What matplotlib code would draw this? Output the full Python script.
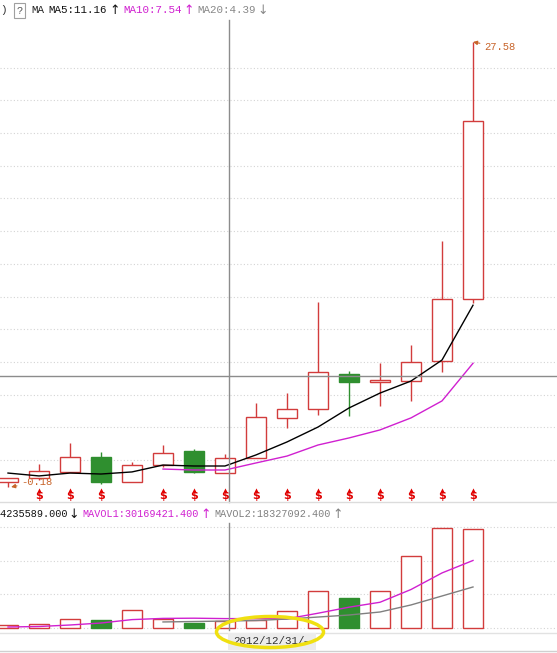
import numpy as np
import matplotlib.pyplot as plt
from matplotlib.patches import Rectangle, Ellipse
from matplotlib.lines import Line2D

W, H = 557, 653
nan = np.nan

# daily k-line (forward adjusted prices)
opens  = [0.13, 0.38, 0.76, 1.69, 0.13, 1.19, 2.07, 0.69, 1.63, 4.13, 4.69, 6.87, 6.37, 6.43, 7.68, 11.55]
highs  = [0.38, 1.26, 2.57, 2.00, 1.38, 2.44, 2.19, 1.88, 5.06, 5.68, 11.36, 7.06, 7.56, 8.68, 15.17, 27.58]
lows   = [-0.18, 0.26, 0.76, 0.01, 0.13, 1.07, 0.69, 0.69, 1.63, 3.50, 4.31, 4.25, 4.87, 5.19, 6.99, 11.30]
closes = [0.38, 0.82, 1.69, 0.13, 1.19, 1.94, 0.76, 1.63, 4.19, 4.69, 6.99, 6.37, 6.50, 7.62, 11.55, 22.65]
ma5  = [0.69, 0.51, 0.69, 0.63, 0.76, 1.19, 1.13, 1.13, 1.82, 2.63, 3.56, 4.75, 5.68, 6.43, 7.74, 11.16]
ma10 = [nan, nan, nan, nan, nan, 0.94, 0.88, 0.88, 1.32, 1.75, 2.44, 2.88, 3.38, 4.13, 5.19, 7.54]
signals = [1, 2, 3, 5, 6, 7, 8, 9, 10, 11, 12, 13, 14, 15]

# volume in millions of shares
volume = [1.34, 1.79, 4.02, 3.57, 8.04, 4.02, 2.23, 3.13, 3.57, 7.60, 16.5, 13.2, 16.5, 32.2, 44.7, 44.24]
mavol1 = [0.45, 0.67, 1.34, 2.23, 3.75, 4.29, 4.38, 4.20, 4.20, 4.10, 6.6, 9.3, 11.5, 17.2, 24.6, 30.17]
mavol2 = [nan, nan, nan, nan, nan, 2.7, 2.9, 3.1, 3.35, 4.0, 4.9, 5.8, 7.15, 10.3, 14.3, 18.33]

RED = '#d23c3c'
GREEN = '#2f8f2f'
MAG = '#d020d0'
MONO = ['Liberation Mono', 'DejaVu Sans Mono']


def fx(x):
    return x / W


def fy(y):
    return 1 - y / H


fig = plt.figure(figsize=(W / 100, H / 100), dpi=100)
fig.patch.set_facecolor('white')

# ---- price panel (pixel rows 20..500)
ax = fig.add_axes([0, fy(500), 1, 480 / H])
s = 27.76 / 445.0
ax.set_ylim(27.58 - 458 * s, 27.58 + 22 * s)
ax.set_xlim(-8 / 31, (W - 8) / 31)
for k in range(13):
    ax.axhline(1.50 + 2.04 * k, color='#d4d4d4', lw=0.8, ls=(0, (1, 2)), zorder=0)

n = len(opens)
x = np.arange(n)
bw = 0.66
for i in range(n):
    up = closes[i] >= opens[i]
    c = RED if up else GREEN
    ax.vlines(i, lows[i], highs[i], color=c, lw=1, zorder=2)
    lo = min(opens[i], closes[i])
    ax.add_patch(Rectangle((i - bw / 2, lo), bw, abs(closes[i] - opens[i]),
                           facecolor='white' if up else GREEN, edgecolor=c, lw=1, zorder=3))

ax.plot(x, ma5, color='black', lw=1, zorder=4)
ax.plot(x, ma10, color=MAG, lw=1, zorder=4)

tr = ax.get_xaxis_transform()
for i in signals:
    ax.scatter(i, (500 - 489.5) / 480, marker='^', s=9, color='#e00000', transform=tr, zorder=5, linewidths=0)
    ax.text(i, (500 - 496) / 480, '$', color='#e00000', fontsize=8, fontweight='bold',
            ha='center', va='center', transform=tr, zorder=5)

ax.annotate('27.58', xy=(15, highs[15]), xytext=(11, -5), textcoords='offset pixels',
            color='#c8642a', fontsize=7.6, family=MONO, ha='left', va='center',
            arrowprops=dict(arrowstyle='-|>', color='#c8642a', lw=0.8, mutation_scale=6,
                            shrinkA=1, shrinkB=0))
ax.annotate('-0.18', xy=(0.1, lows[0]), xytext=(10, 5), textcoords='offset pixels',
            color='#c8642a', fontsize=7.6, family=MONO, ha='left', va='center',
            arrowprops=dict(arrowstyle='-|>', color='#c8642a', lw=0.8, mutation_scale=6,
                            shrinkA=1, shrinkB=0))
ax.axis('off')

# ---- volume panel (pixel rows 505..632)
vax = fig.add_axes([0, fy(632), 1, 127 / H])
v = 0.4468
vax.set_ylim(-4 * v, 123 * v)
vax.set_xlim(-8 / 31, (W - 8) / 31)
for g in [0, 15, 30, 45]:
    vax.axhline(g, color='#d4d4d4', lw=0.8, ls=(0, (1, 2)), zorder=0)
for i in range(n):
    up = closes[i] >= opens[i]
    c = RED if up else GREEN
    vax.add_patch(Rectangle((i - bw / 2, 0), bw, volume[i],
                            facecolor='white' if up else GREEN, edgecolor=c, lw=1, zorder=3))
vax.plot(x, mavol1, color=MAG, lw=1, zorder=4)
vax.plot(x, mavol2, color='#808080', lw=1, zorder=4)
vax.axis('off')

# ---- crosshair and separators
for (x0, y0, x1, y1, col) in [(229, 20, 229, 502, '#8c8c8c'), (229, 523, 229, 630, '#8c8c8c'),
                              (0, 376, W, 376, '#8c8c8c'), (0, 502, W, 502, '#dcdcdc'),
                              (0, 633, W, 633, '#e2e2e2'), (0, 651, W, 651, '#d0d0d0')]:
    fig.add_artist(Line2D([fx(x0), fx(x1)], [fy(y0), fy(y1)], color=col, lw=1, zorder=6))


# ---- headers
def htext(px, py, s_, col, size=7.8):
    fig.text(fx(px), fy(py), s_, color=col, fontsize=size, family=MONO, ha='left', va='center')


def arrow(px, py, s_, col):
    fig.text(fx(px), fy(py), s_, color=col, fontsize=9, family=['DejaVu Sans'],
             ha='center', va='center')


htext(0, 10, ')', '#333333')
fig.text(fx(19.5), fy(10.5), '?', color='#555555', fontsize=7.5, family=MONO, ha='center', va='center',
         bbox=dict(boxstyle='square,pad=0.25', facecolor='white', edgecolor='#a0a0a0', lw=0.8))
htext(31, 10, 'MA', '#222222')
htext(48, 10, 'MA5:11.16', '#111111')
arrow(115, 10, '↑', '#111111')
htext(123, 10, 'MA10:7.54', MAG)
arrow(189, 10, '↑', MAG)
htext(197, 10, 'MA20:4.39', '#888888')
arrow(263, 10, '↓', '#888888')

htext(-5.5, 514, '44235589.000', '#111111', 7.3)
arrow(74, 514, '↓', '#111111')
htext(82, 514, 'MAVOL1:30169421.400', MAG, 7.3)
arrow(206, 514, '↑', MAG)
htext(214, 514, 'MAVOL2:18327092.400', '#808080', 7.3)
arrow(338, 514, '↑', '#808080')

# ---- date label
fig.add_artist(Rectangle((fx(228), fy(650)), 88 / W, 17 / H, transform=fig.transFigure,
                         facecolor='#ececec', edgecolor='none', zorder=6))
fig.text(fx(272), fy(641), '2012/12/31/—', color='#333333', fontsize=7.8, family=MONO,
         ha='center', va='center', zorder=7)
fig.add_artist(Ellipse((fx(270), fy(632)), 107 / W, 31 / H, transform=fig.transFigure,
                       facecolor='none', edgecolor='#f0e010', lw=2.5, zorder=8))

fig.savefig('out.png', dpi=100)
